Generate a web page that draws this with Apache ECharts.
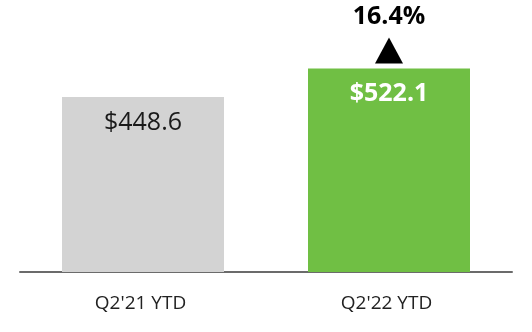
<!DOCTYPE html>
<html><head><meta charset="utf-8">
<script src="https://cdn.jsdelivr.net/npm/echarts@6/dist/echarts.min.js"></script>
<style>html,body{margin:0;padding:0;background:#fff}#c{width:532px;height:332px}</style>
</head><body><div id="c"></div>
<script>
const categories = ["Q2'21 YTD", "Q2'22 YTD"];
const values = [448.6, 522.1];
const valueLabels = ["$448.6", "$522.1"];
const changeLabel = "16.4%";

const chart = echarts.init(document.getElementById('c'), null, {renderer: 'canvas'});
const FONT = '"Open Sans", sans-serif';
chart.setOption({
  animation: false,
  grid: {left: 20, right: 20, top: 38, bottom: 60},
  xAxis: {
    type: 'category', data: categories,
    axisLine: {lineStyle: {color: '#6b6b6b', width: 2}},
    axisTick: {show: false},
    axisLabel: {color: '#222', fontSize: 19, fontFamily: FONT, margin: 22, padding: [0, 5, 0, 0]}
  },
  yAxis: {type: 'value', min: 0, max: 600, show: false, splitLine: {show: false}},
  series: [{
    type: 'bar', barWidth: 162,
    data: [
      {value: values[0], itemStyle: {color: '#d3d3d3'},
       label: {show: true, position: 'insideTop', distance: 13, formatter: valueLabels[0], color: '#1a1a1a', fontSize: 25, fontFamily: FONT}},
      {value: values[1], itemStyle: {color: '#70bf44'},
       label: {show: true, position: 'insideTop', distance: 13, formatter: valueLabels[1], color: '#fff', fontSize: 25, fontWeight: 'bold', fontFamily: FONT}}
    ],
    markPoint: {
      data: [{
        coord: [categories[1], values[1]],
        symbol: 'triangle', symbolSize: [28, 26], symbolOffset: [0, -18],
        itemStyle: {color: '#000'},
        label: {show: true, position: 'top', distance: 8, formatter: changeLabel, color: '#000', fontSize: 25, fontWeight: 'bold', fontFamily: FONT}
      }]
    }
  }]
});
</script></body></html>
